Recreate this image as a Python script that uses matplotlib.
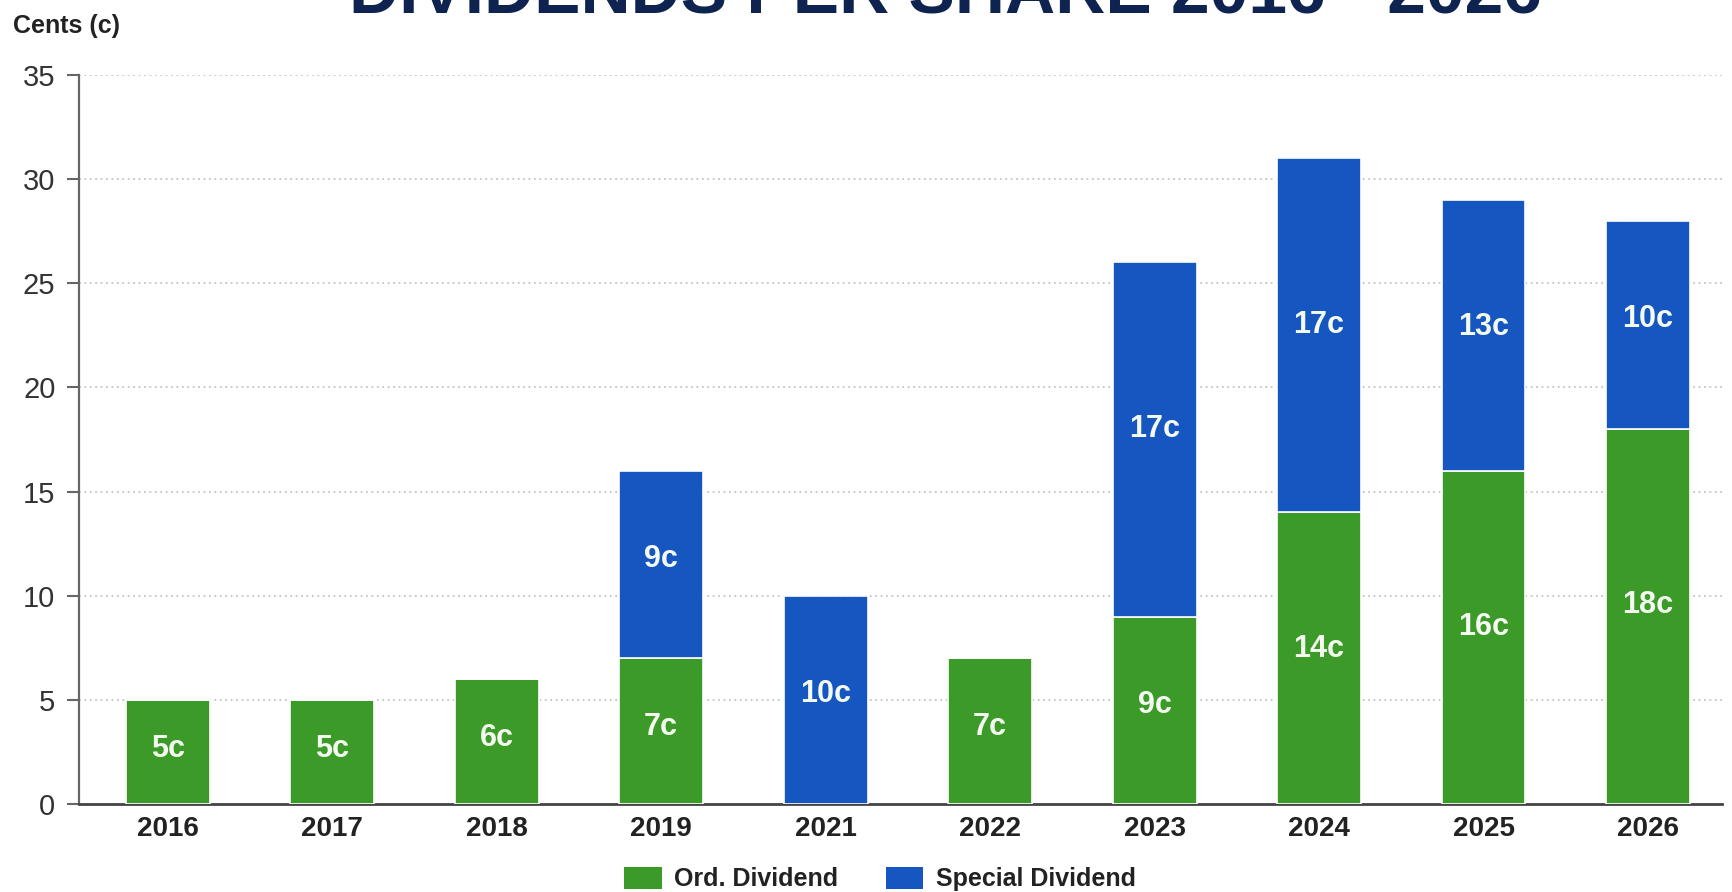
import matplotlib
matplotlib.use("Agg")
import matplotlib.pyplot as plt
from matplotlib.patches import Patch

plt.rcParams['font.family'] = ['Liberation Sans', 'DejaVu Sans']

# Dividends per share, in cents
years = ["2016", "2017", "2018", "2019", "2021", "2022", "2023", "2024", "2025", "2026"]
ordinary = [5, 5, 6, 7, 0, 7, 9, 14, 16, 18]
special = [0, 0, 0, 9, 10, 0, 17, 17, 13, 10]
y_ticks = [0, 5, 10, 15, 20, 25, 30, 35]

GREEN = "#3c9a28"
BLUE = "#1556c0"
NAVY = "#0f2350"

fig = plt.figure(figsize=(17.32, 8.92), dpi=100)
fig.patch.set_facecolor("white")
ax = fig.add_axes([79 / 1732, 1 - 804 / 892, (1722 - 79) / 1732, (804 - 75) / 892])

x = list(range(len(years)))
width = 0.51
ax.bar(x, ordinary, width=width, color=GREEN, edgecolor="white", linewidth=1.2, zorder=3)
ax.bar(x, special, width=width, bottom=ordinary, color=BLUE, edgecolor="white",
       linewidth=1.2, zorder=3)

label_kw = dict(ha="center", va="center", color="#f4faf0", fontsize=22,
                fontweight="bold", zorder=4)
for i in x:
    if ordinary[i] > 0:
        ax.text(i, ordinary[i] * 0.53, f"{ordinary[i]}c", **label_kw)
    if special[i] > 0:
        ax.text(i, ordinary[i] + special[i] * 0.53, f"{special[i]}c", **label_kw)

ax.set_xlim(-0.54, 9.45)
ax.set_ylim(0, 35)
ax.set_yticks(y_ticks)
ax.set_xticks(x)
ax.set_xticklabels(years, fontsize=20, fontweight="bold", color="#222222")
ax.tick_params(axis="x", length=0, pad=9)
ax.tick_params(axis="y", length=9, width=1.5, color="#666666", labelsize=21,
               labelcolor="#333333", pad=8)

ax.grid(axis="y", linestyle=(0, (1, 2)), color="#c4c4c4", linewidth=1.3, zorder=0)
ax.set_axisbelow(True)
for side in ("top", "right"):
    ax.spines[side].set_visible(False)
ax.spines["left"].set_color("#666666")
ax.spines["left"].set_linewidth(1.6)
ax.spines["bottom"].set_color("#444444")
ax.spines["bottom"].set_linewidth(2.0)

fig.text(13 / 1732, 1 - 26 / 892, "Cents (c)", ha="left", va="center",
         fontsize=18, fontweight="bold", color="#222222")

fig.text(945 / 1732, 1 - 13 / 892, "DIVIDENDS PER SHARE 2016 - 2026", ha="center",
         va="baseline", fontsize=50, fontweight="bold", color=NAVY)

handles = [Patch(facecolor=GREEN, label="Ord. Dividend"),
           Patch(facecolor=BLUE, label="Special Dividend")]
fig.legend(handles=handles, loc="center", bbox_to_anchor=(880 / 1732, 1 - 879 / 892),
           ncol=2, frameon=False, prop={"size": 18, "weight": "bold"},
           handlelength=1.5, handleheight=1.0, handletextpad=0.5, columnspacing=1.9,
           labelcolor="#222222")

fig.savefig("out.png", dpi=100, facecolor="white")
